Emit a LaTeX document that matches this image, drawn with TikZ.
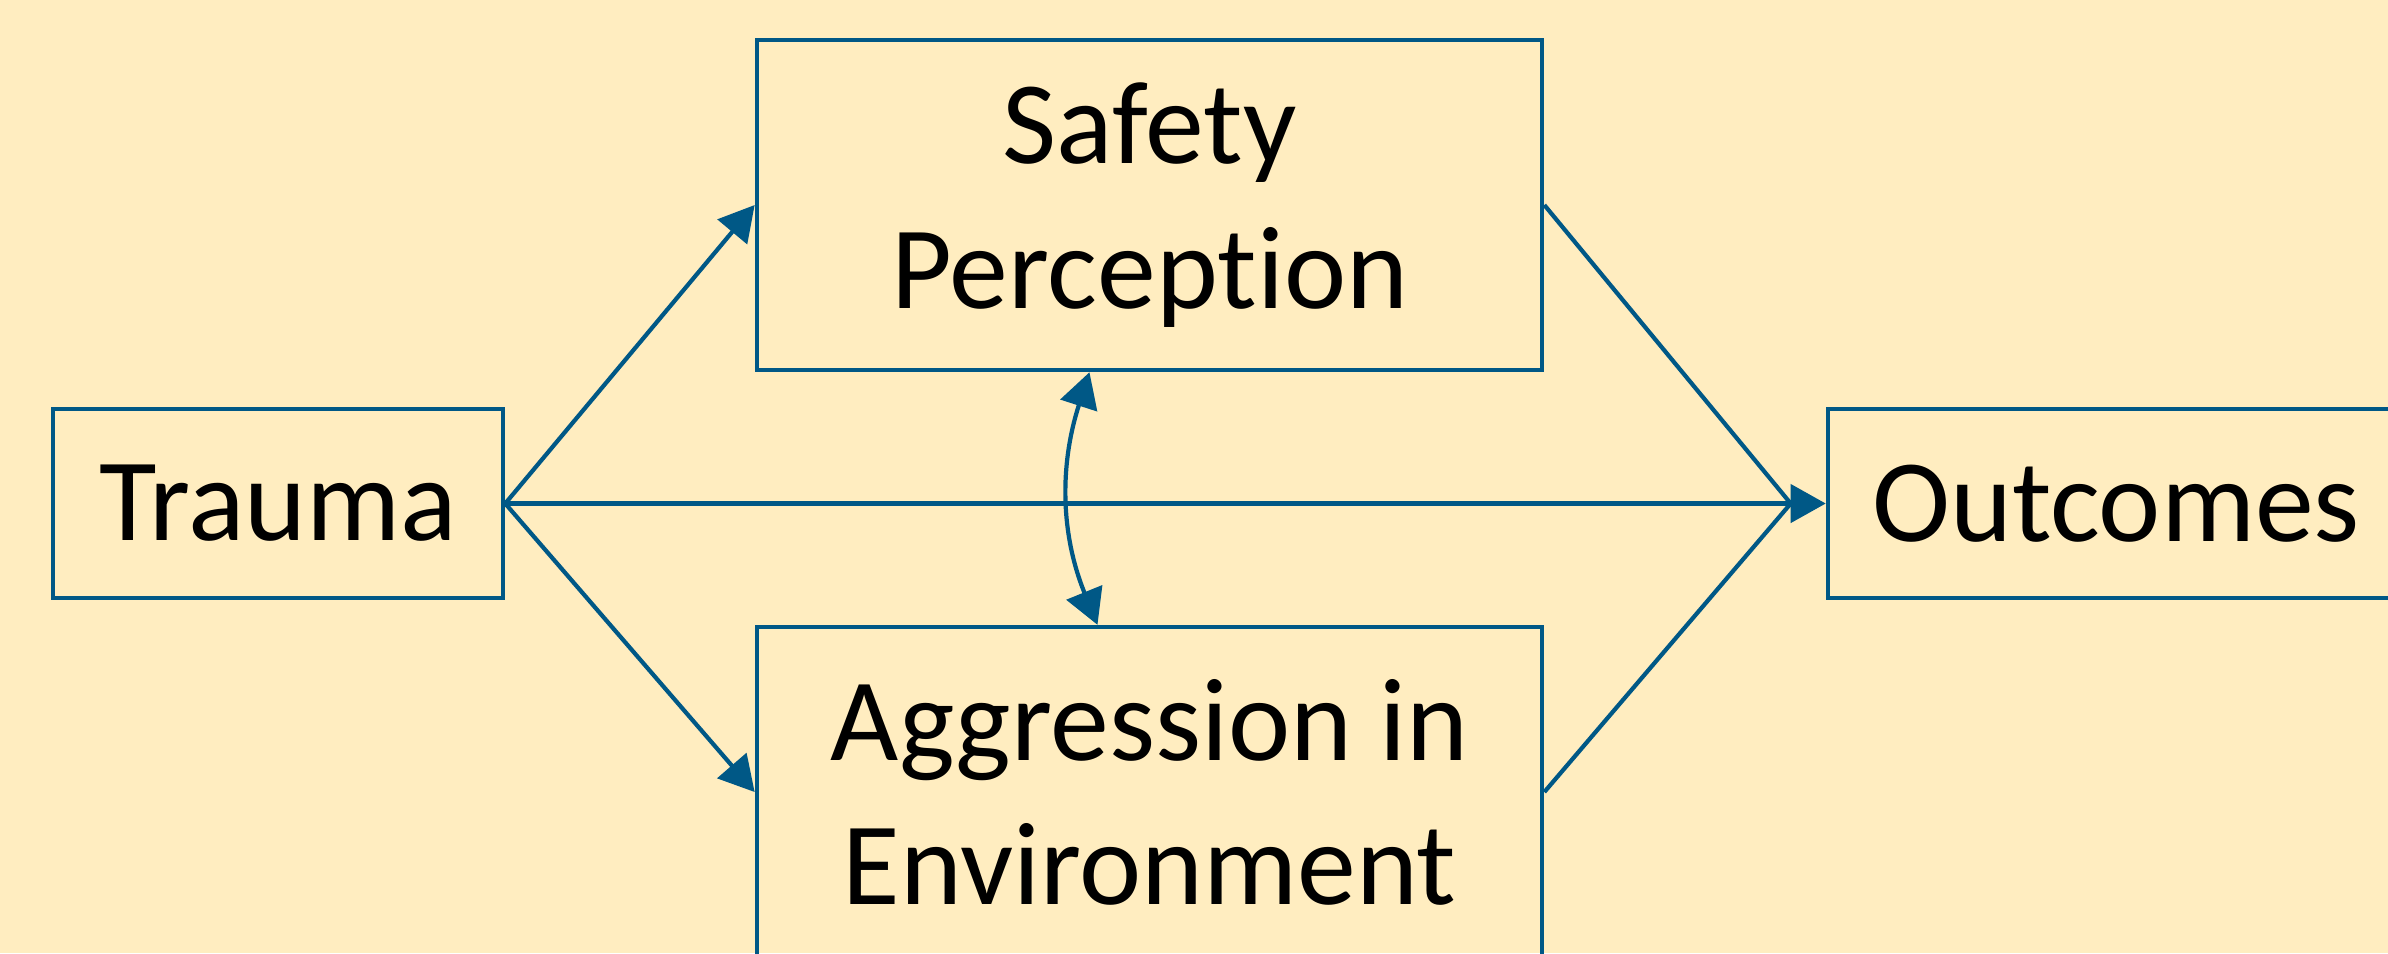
\documentclass[tikz,border=0pt]{standalone}
\usepackage{fontspec}
\setmainfont{Carlito}[Ligatures={NoCommon,NoRequired,NoContextual}]
\usetikzlibrary{arrows.meta}
\definecolor{bg}{RGB}{255,237,192}
\definecolor{edge}{RGB}{0,88,134}

\begin{document}
\begin{tikzpicture}[x=0.01cm, y=-0.01cm, line width=1.2pt,
    box/.style={draw=edge, inner sep=0pt, align=center, font=\fontsize{33.5}{41}\selectfont},
    tip/.style={-{Triangle[length=0.35cm, width=0.38cm]}},
    both/.style={{Triangle[length=0.35cm, width=0.38cm]}-{Triangle[length=0.35cm, width=0.38cm]}}]
    \fill[bg] (0,0) rectangle (2388,953);
    \useasboundingbox (0,0) rectangle (2388,953);

    \node[box, minimum width=4.5cm, minimum height=1.89cm] (T) at (278,503.5) {Trauma};
    \node[box, minimum width=7.85cm, minimum height=3.3cm] (S) at (1149.5,205) {Safety\\Perception};
    \node[box, minimum width=7.85cm, minimum height=3.3cm] (E) at (1149.5,792) {Aggression in\\Environment};
    \node[box, minimum width=5.76cm, minimum height=1.89cm] (O) at (2116,503.5) {Outcomes};
    \coordinate (O1) at ([xshift=-0.35cm]O.west);

    \draw[edge, tip] (T.east) -- (S.west); % to safety
    \draw[edge, tip] (T.east) -- (E.west); % to aggression
    \draw[edge, tip] (T.east) -- (O.west); % direct
    \draw[edge] (S.east) -- (O1);
    \draw[edge] (E.east) -- (O1);
    \draw[edge, both] ([xshift=-0.6cm]S.south) .. controls +(-30,93) and +(-37,-91) .. ([xshift=-0.52cm]E.north); % covariance

\end{tikzpicture}
\end{document}
